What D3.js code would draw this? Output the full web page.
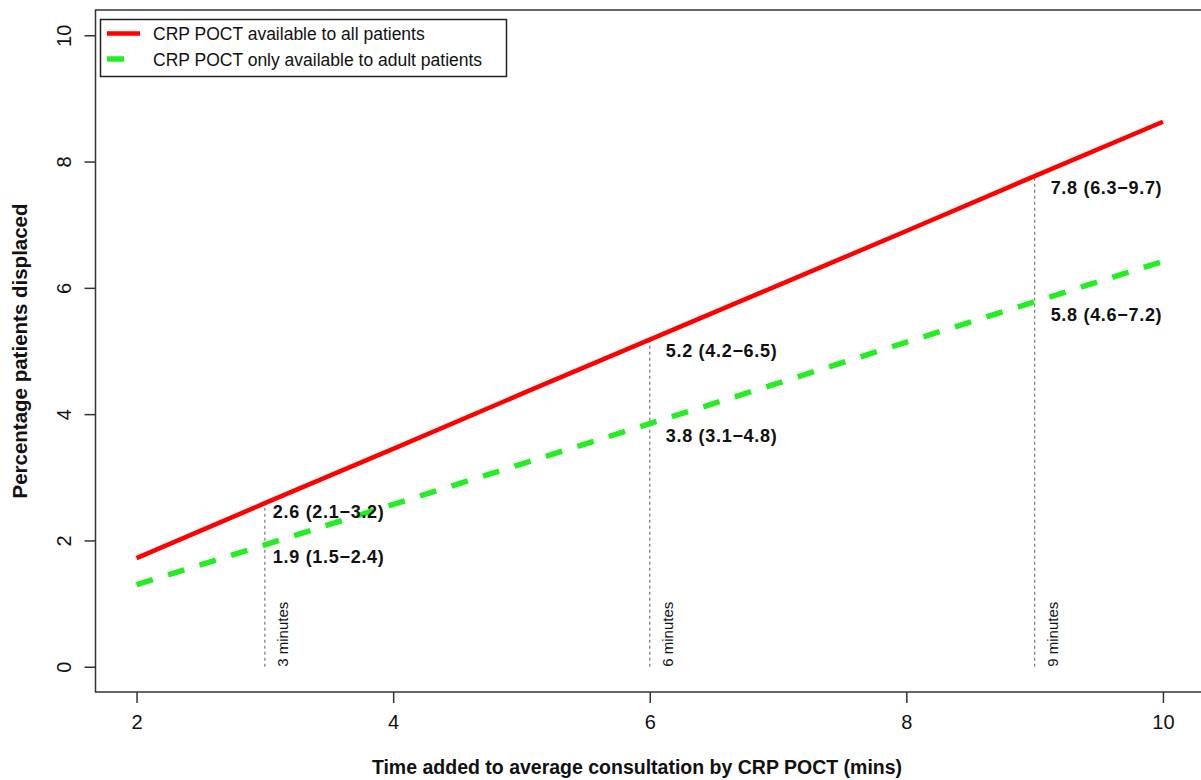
<!DOCTYPE html>
<html>
<head>
<meta charset="utf-8">
<script src="https://cdn.jsdelivr.net/npm/d3@7"></script>
<style>
  body { margin: 0; background: #fff; }
  svg { font-family: "Liberation Sans", Arial, Helvetica, sans-serif; }
</style>
</head>
<body>
<div id="chart"></div>
<script>
// time added (mins) and % patients displaced
const times = [2, 3, 4, 5, 6, 7, 8, 9, 10];
const allPatients = [1.72, 2.59, 3.45, 4.32, 5.18, 6.04, 6.90, 7.77, 8.63];
const adultPatients = [1.30, 1.93, 2.57, 3.21, 3.85, 4.49, 5.14, 5.78, 6.42];

const markerTimes = [3, 6, 9];
const markerNames = ["3 minutes", "6 minutes", "9 minutes"];
const allValues = [2.6, 5.2, 7.8];
const allLabels = ["2.6 (2.1\u22123.2)", "5.2 (4.2\u22126.5)", "7.8 (6.3\u22129.7)"];
const adultValues = [1.9, 3.8, 5.8];
const adultLabels = ["1.9 (1.5\u22122.4)", "3.8 (3.1\u22124.8)", "5.8 (4.6\u22127.2)"];

const xTicks = [2, 4, 6, 8, 10];
const yTicks = [0, 2, 4, 6, 8, 10];
const seriesNames = ["CRP POCT available to all patients", "CRP POCT only available to adult patients"];

const W = 1201, H = 780;
const red = "#ff0000", green = "#22ee22";

// label nudges per marker (px)
const nudgeX = [8, 16, 16], nudgeY = [15, 19, 20];

var svg = d3.select("#chart").append("svg")
  .attr("width", W)
  .attr("height", H);

// R-style 4% padding around the data range
var x = d3.scaleLinear().domain([1.68, 10.32]).range([95.5, 1204]);
var y = d3.scaleLinear().domain([-0.4, 10.4]).range([692, 10]);

// axes
var xAxis = svg.append("g")
  .attr("transform", `translate(0, ${y(-0.4)})`)
  .call(d3.axisBottom(x).tickValues(xTicks).tickSize(11).tickPadding(12).tickFormat(d3.format("d")));
xAxis.select(".domain").remove();
xAxis.selectAll("line").attr("stroke", "#333").attr("stroke-width", 1.5);
xAxis.selectAll("text").attr("font-size", 20).attr("fill", "#111")
  .attr("font-family", "Liberation Sans, Arial, sans-serif").attr("dy", "0.72em");

var yAxis = svg.append("g")
  .attr("transform", `translate(${x(1.68)}, 0)`)
  .call(d3.axisLeft(y).tickValues(yTicks).tickSize(11).tickFormat(d3.format("d")));
yAxis.select(".domain").remove();
yAxis.selectAll("line").attr("stroke", "#333").attr("stroke-width", 1.5);
yAxis.selectAll("text")
  .attr("font-size", 20).attr("fill", "#111")
  .attr("font-family", "Liberation Sans, Arial, sans-serif")
  .attr("text-anchor", "middle")
  .attr("x", null).attr("dy", null)
  .attr("transform", "translate(-25,0) rotate(-90)");

// plot box
svg.append("rect")
  .attr("x", x(1.68))
  .attr("y", y(10.4))
  .attr("width", x(10.32) - x(1.68))
  .attr("height", y(-0.4) - y(10.4))
  .attr("fill", "none")
  .attr("stroke", "#333")
  .attr("stroke-width", 1.5);

// vertical dotted markers
svg.append("g").selectAll("line")
  .data(markerTimes)
  .join("line")
  .attr("x1", d => x(d)).attr("x2", d => x(d))
  .attr("y1", y(0))
  .attr("y2", (d, i) => y(allValues[i]))
  .attr("stroke", "#777")
  .attr("stroke-width", 1.2)
  .attr("stroke-dasharray", "3,3");

svg.append("g").selectAll("text")
  .data(markerTimes)
  .join("text")
  .attr("transform", d => `translate(${x(d) + 23}, ${y(0)}) rotate(-90)`)
  .attr("font-size", 15)
  .attr("fill", "#111")
  .text((d, i) => markerNames[i]);

// lines
var line = d3.line()
  .x(d => x(d[0]))
  .y(d => y(d[1]));

svg.append("path")
  .datum(times.map((t, i) => [t, adultPatients[i]]))
  .attr("d", line)
  .attr("fill", "none")
  .attr("stroke", green)
  .attr("stroke-width", 5.5)
  .attr("stroke-dasharray", "17,16");

svg.append("path")
  .datum(times.map((t, i) => [t, allPatients[i]]))
  .attr("d", line)
  .attr("fill", "none")
  .attr("stroke", red)
  .attr("stroke-width", 4.5);

// value labels
var labels = svg.append("g")
  .attr("font-size", 18)
  .attr("font-weight", "bold")
  .attr("letter-spacing", 0.7)
  .attr("fill", "#111");

labels.selectAll(".all")
  .data(markerTimes)
  .join("text")
  .attr("class", "all")
  .attr("x", (d, i) => x(d) + nudgeX[i])
  .attr("y", (d, i) => y(allValues[i]) + nudgeY[i])
  .text((d, i) => allLabels[i]);

labels.selectAll(".adult")
  .data(markerTimes)
  .join("text")
  .attr("class", "adult")
  .attr("x", (d, i) => x(d) + nudgeX[i])
  .attr("y", (d, i) => y(adultValues[i]) + (i == 1 ? 15 : nudgeY[i] + 1))
  .text((d, i) => adultLabels[i]);

// legend
var legend = svg.append("g");
legend.append("rect")
  .attr("x", 100.5).attr("y", 19.5)
  .attr("width", 406).attr("height", 57)
  .attr("fill", "#fff")
  .attr("stroke", "#222")
  .attr("stroke-width", 1.5);

var legendRows = legend.selectAll("g")
  .data(seriesNames)
  .join("g")
  .attr("transform", (d, i) => `translate(0, ${33.5 + i * 25.5})`);

legendRows.append("line")
  .attr("x1", 107).attr("x2", 140)
  .attr("stroke", (d, i) => i == 0 ? red : green)
  .attr("stroke-width", (d, i) => i == 0 ? 4.5 : 5.5)
  .attr("stroke-dasharray", (d, i) => i == 0 ? null : "17,16");

legendRows.append("text")
  .attr("x", 153)
  .attr("y", 6.5)
  .attr("font-size", 17.5)
  .attr("fill", "#111")
  .text(d => d);

// axis titles
svg.append("text")
  .attr("x", 637)
  .attr("y", 774)
  .attr("text-anchor", "middle")
  .attr("font-size", 19.5)
  .attr("font-weight", "bold")
  .attr("fill", "#111")
  .text("Time added to average consultation by CRP POCT (mins)");

svg.append("text")
  .attr("transform", `translate(27, ${(y(-0.4) + y(10.4)) / 2}) rotate(-90)`)
  .attr("text-anchor", "middle")
  .attr("font-size", 20.5)
  .attr("font-weight", "bold")
  .attr("fill", "#111")
  .text("Percentage patients displaced");
</script>
</body>
</html>
